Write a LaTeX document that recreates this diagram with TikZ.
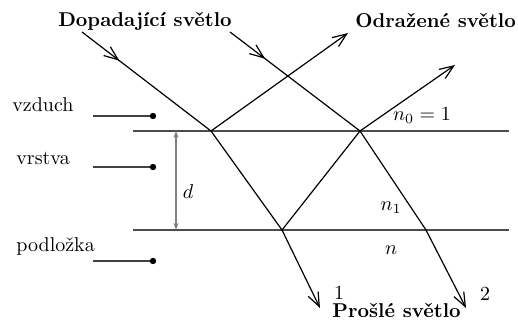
\documentclass[tikz,border=0pt]{standalone}
\usepackage{fontspec}
\usetikzlibrary{arrows.meta,decorations.markings}

\tikzset{
  ray/.style={line width=0.6pt, black},
  iface/.style={line width=1pt, black!70},
  lead/.style={line width=1pt, black!75},
  dimline/.style={line width=0.6pt, black!50, {Stealth[length=3.5pt,width=2.5pt]}-{Stealth[length=3.5pt,width=2.5pt]}},
  midarrow/.style={postaction={decorate, decoration={markings,
      mark=at position #1 with {\arrow{Straight Barb[length=7pt,width=5.5pt]}}}}},
}

\begin{document}
\begin{tikzpicture}[x=0.5pt, y=-0.5pt, every node/.style={font=\normalsize, inner sep=0pt},
    >={Straight Barb[length=7pt,width=5.5pt]}]
    \useasboundingbox (0,0) rectangle (518,325);

    % rozhrani
    \coordinate (t0) at (133,131); \coordinate (t1) at (509,131);
    \coordinate (b0) at (133,230); \coordinate (b1) at (509,230);
    \draw[iface] (t0) -- (t1);
    \draw[iface] (b0) -- (b1);

    % body paprsku
    \coordinate (A) at (211,131);
    \coordinate (B) at (282,230);
    \coordinate (C) at (360,131);
    \coordinate (D) at (426,230);
    \coordinate (s1) at (82,32);
    \coordinate (s2) at (230,32);
    \coordinate (r1) at (348,33);
    \coordinate (r2) at (455,65);
    \coordinate (p1) at (320,308);
    \coordinate (p2) at (466,308);

    \draw[ray, midarrow=0.29] (s1) -- (A);
    \draw[ray, midarrow=0.27] (s2) -- (C);
    \draw[ray, ->] (A) -- (r1);
    \draw[ray, ->] (C) -- (r2);
    \draw[ray] (A) -- (B) -- (C) -- (D);
    \draw[ray, ->] (B) -- (p1);
    \draw[ray, ->] (D) -- (p2);

    \node[anchor=base] (inc) at (145,27) {\textbf{Dopadající světlo}};
    \node[anchor=base west] (refl) at (355,28) {\textbf{Odražené světlo}};
    \node[anchor=base west] (trans) at (332,317) {\textbf{Prošlé světlo}};
    \node (one) at (339,293) {1};
    \node (two) at (485,294) {2};

    % prostredi
    \node[anchor=base west] (air) at (12,112) {vzduch};
    \node[anchor=base west] (film) at (16,165) {vrstva};
    \node[anchor=base west] (sub) at (16,252) {podložka};
    \foreach \y/\n in {116/air, 167/film, 261/sub} {
        \coordinate (l\n) at (93,\y);
        \coordinate (e\n) at (153,\y);
        \draw[lead] (l\n) -- (e\n);
        \fill (e\n) circle (1.6pt);
    }

    \node (n0) at (422,116) {$n_0=1$};
    \node (n1) at (391,208) {$n_1$};
    \node (n) at (391,250) {$n$};

    % tloustka
    \coordinate (dt) at (176,131); \coordinate (db) at (176,230);
    \draw[dimline] (dt) -- (db);
    \node (dlab) at (188,192) {$d$};
\end{tikzpicture}
\end{document}
